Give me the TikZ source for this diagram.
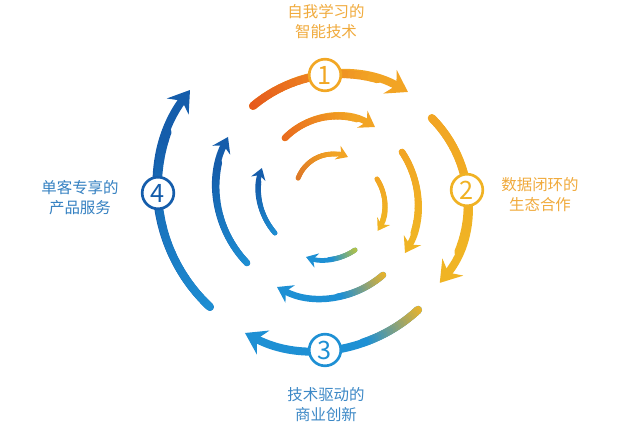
\documentclass[tikz,border=0pt]{standalone}
\usepackage{fontspec}
\setmainfont{Noto Sans CJK SC}
\usetikzlibrary{arrows.meta}

\definecolor{redorange}{HTML}{E5561C}
\definecolor{orangeb}{HTML}{E8681E}
\definecolor{copper}{HTML}{DC7428}
\definecolor{amber}{HTML}{F2A424}
\definecolor{gold}{HTML}{F0B424}
\definecolor{lime}{HTML}{BDC53E}
\definecolor{skyblue}{HTML}{1E90D4}
\definecolor{deepblue}{HTML}{155DAB}
\definecolor{warmtext}{HTML}{F0AA3C}
\definecolor{bluetext}{HTML}{3C88C6}

% centre, radius, from, to, colour from, colour to, style, gradient share
\newcommand{\ringarc}[8]{%
  \draw[#7,#6] (#1) ++(#3:#2) arc[start angle=#3,end angle=#4,radius=#2];
  \foreach \k in {1,...,20}{%
    \pgfmathsetmacro{\sa}{#3+(\k-1)*#8*(#4-#3)/20}%
    \pgfmathsetmacro{\ea}{#3+\k*#8*(#4-#3)/20}%
    \pgfmathtruncatemacro{\pc}{5*\k}%
    \draw[#7,-,#6!\pc!#5] (#1) ++(\sa:#2) arc[start angle=\sa,end angle=\ea,radius=#2];
  }%
}

\begin{document}
\begin{tikzpicture}[
                x=0.025cm, y=-0.025cm,
                bigarc/.style={line width=5.7pt,line cap=round,-{Stealth[length=14.5pt,width=19pt,inset=5pt]}},
                midarc/.style={line width=4.6pt,line cap=round,-{Stealth[length=10.5pt,width=14pt,inset=3.6pt]}},
                smallarc/.style={line width=3.4pt,line cap=round,-{Stealth[length=8pt,width=10.5pt,inset=2.7pt]}},
                num/.style={circle,draw,fill=white,line width=1.9pt,minimum size=22.5pt,inner sep=0pt,font=\fontsize{18pt}{18pt}\selectfont},
                blurb/.style={align=center,inner sep=0pt,font=\fontsize{11pt}{14.2pt}\selectfont}
            ]
                \useasboundingbox (0,0) rectangle (640,432);
                % outer ring
                \ringarc{340.5,210.2}{136.1}{-130}{-60.3}{redorange}{amber}{bigarc}{0.8}
                \ringarc{344.8,204.9}{122.9}{-44.9}{39.4}{amber}{gold}{bigarc}{0.8}
                \ringarc{315.2,199.2}{151.1}{47.1}{117.7}{gold}{skyblue}{bigarc}{0.35}
                \ringarc{321.5,187.3}{163.6}{133}{216.5}{skyblue}{deepblue}{bigarc}{0.8}
                % middle ring
                \ringarc{336.9,189.4}{73.1}{-135.3}{-58.6}{orangeb}{amber}{midarc}{0.8}
                \ringarc{322.6,204.9}{95.4}{-33.7}{30.3}{amber}{gold}{midarc}{0.8}
                \ringarc{321.3,204.1}{94}{49}{118.1}{gold}{skyblue}{midarc}{0.45}
                \ringarc{326.3,186.6}{110.1}{136.1}{206.8}{skyblue}{deepblue}{midarc}{0.8}
                % inner ring
                \ringarc{333.2,191.6}{37.6}{-158.9}{-66.8}{copper}{amber}{smallarc}{0.8}
                \ringarc{336,205.5}{48.8}{-32.9}{31.3}{amber}{gold}{smallarc}{0.8}
                \ringarc{323.5,204.1}{55.7}{55.5}{108.3}{lime}{skyblue}{smallarc}{0.55}
                \ringarc{325.3,189.1}{66.8}{138.9}{198.4}{skyblue}{deepblue}{smallarc}{0.8}

                \node (n1) [num,draw=amber!80!gold,text=amber!80!gold] at (325,75)  {1};
                \node (n2) [num,draw=gold!90!amber,text=gold!90!amber] at (467,190) {2};
                \node (n3) [num,draw=skyblue,text=skyblue]             at (325,350) {3};
                \node (n4) [num,draw=deepblue,text=deepblue]           at (158,193) {4};

                \node (t1) [blurb,text=warmtext] at (326,22)  {自我学习的\\智能技术};
                \node (t2) [blurb,text=warmtext] at (540,195) {数据闭环的\\生态合作};
                \node (t3) [blurb,text=bluetext] at (326,405) {技术驱动的\\商业创新};
                \node (t4) [blurb,text=bluetext!80!deepblue] at (80,198) {单客专享的\\产品服务};
            \end{tikzpicture}
\end{document}
